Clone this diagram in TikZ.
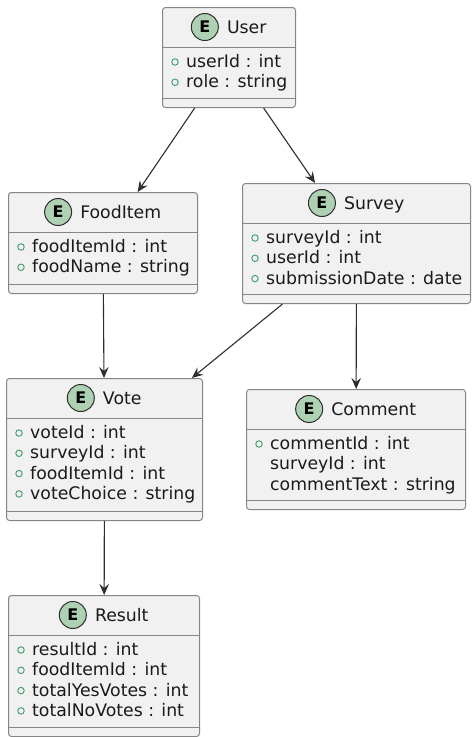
\documentclass[tikz,border=0pt]{standalone}
\usepackage{fontspec}
\setmainfont{DejaVu Sans}
\usetikzlibrary{arrows.meta,calc}
\definecolor{boxfill}{HTML}{F1F1F1}
\definecolor{boxline}{HTML}{858585}
\definecolor{circfill}{HTML}{ADD1B2}
\definecolor{darkline}{HTML}{2E2E2E}
\definecolor{bulgreen}{HTML}{3F9A6A}
\definecolor{txt}{HTML}{1A1A1A}
\tikzset{
  ebox/.style={rectangle, draw=boxline, fill=boxfill, line width=1pt, rounded corners=3pt, inner sep=0pt},
  sepline/.style={draw=boxline, line width=1pt},
  etitle/.style={inner sep=0pt, text height=12.5pt, text depth=0.5pt, text=txt, font=\fontsize{17.3}{20}\selectfont},
  ecirc/.style={circle, minimum size=27pt, inner sep=0pt, fill=circfill, draw=darkline, line width=1pt, font=\bfseries\fontsize{16}{16}\selectfont},
  eattr/.style={anchor=base west, inner sep=0pt, text=txt, font=\fontsize{17.3}{20}\selectfont},
  ebul/.style={circle, minimum size=6.5pt, inner sep=0pt, draw=bulgreen, line width=0.9pt},
  conn/.style={draw=darkline, line width=1.1pt, -{Stealth[length=11pt,width=9.5pt,inset=4pt]}}
}
\newcommand\entity[7]{%
  \node[ebox, minimum width=#4pt, minimum height=#5pt, anchor=north west] (#1) at (#2,#3) {};
  \draw[sepline] ([yshift=-40pt]#1.north west) -- ([yshift=-40pt]#1.north east);
  \draw[sepline] ([yshift=10pt]#1.south west) -- ([yshift=10pt]#1.south east);
  \node[etitle] (#1-t) at ([xshift=17.75pt, yshift=-20pt]#1.north) {#6};
  \node[ecirc] (#1-c) at ([xshift=-22pt]#1-t.west) {E};
  \foreach \bb/\tx [count=\ii from 0] in {#7} {
    \pgfmathsetmacro\yy{-(60.5+20.3*\ii)}
    \pgfmathsetmacro\yb{\yy+5.5}
    \node[eattr] (#1-a\ii) at ([xshift=24pt, yshift=\yy pt]#1.north west) {\tx};
    \ifnum\bb=1 \node[ebul] (#1-b\ii) at ([xshift=13pt, yshift=\yb pt]#1.north west) {};\fi
  }
}
\begin{document}
\begin{tikzpicture}[x=1pt, y=-1pt]
\useasboundingbox (0,0) rectangle (474,737);
\fill[white] (0,0) rectangle (474,737);
\entity{user}{162}{7}{133}{100}{User}{1/userId : int,1/role : string}
\entity{food}{8}{192}{189}{101}{FoodItem}{1/foodItemId : int,1/foodName : string}
\entity{survey}{242}{183}{228}{120}{Survey}{1/surveyId : int,1/userId : int,1/submissionDate : date}
\entity{vote}{6}{378}{196}{142}{Vote}{1/voteId : int,1/surveyId : int,1/foodItemId : int,1/voteChoice : string}
\entity{comment}{246}{389}{219}{120}{Comment}{1/commentId : int,0/surveyId : int,0/commentText : string}
\entity{result}{8}{595}{191}{141}{Result}{1/resultId : int,1/foodItemId : int,1/totalYesVotes : int,1/totalNoVotes : int}
\draw[conn] (user) -- (food);
\draw[conn] (user) -- (survey);
\draw[conn] (food) -- (vote);
\draw[conn] (survey) -- (vote);
\draw[conn] (survey) -- (comment);
\draw[conn] (vote) -- (result);
\end{tikzpicture}
\end{document}
